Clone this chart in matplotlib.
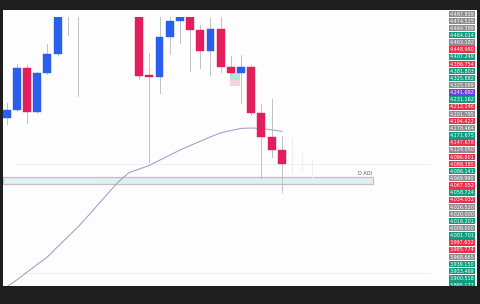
import matplotlib
matplotlib.use("Agg")
import matplotlib.pyplot as plt
from matplotlib.patches import Rectangle

# ---------------- data ----------------
opens  = [4229.0, 4249.5, 4357.1, 4244.3, 4344.3, 4393.0, 4530.0, 4515.0, 4545.0, 4570.0,
          4560.0, 4585.0, 4550.0, 4510.0, 4337.9, 4334.1, 4436.6, 4477.6, 4495.0, 4454.5,
          4400.7, 4457.1, 4359.7, 4344.3, 4359.7, 4241.8, 4180.3, 4146.9]
highs  = [4267.4, 4367.4, 4364.8, 4346.9, 4418.6, 4520.0, 4540.0, 4560.0, 4590.0, 4600.0,
          4605.0, 4595.0, 4565.0, 4525.0, 4395.6, 4495.0, 4495.0, 4500.0, 4505.0, 4467.3,
          4485.3, 4492.0, 4387.9, 4390.4, 4364.8, 4264.8, 4277.7, 4182.8]
lows   = [4213.6, 4246.9, 4216.2, 4241.8, 4341.7, 4390.4, 4441.7, 4285.4, 4520.0, 4530.0,
          4540.0, 4525.0, 4495.0, 4329.0, 4116.2, 4293.0, 4393.0, 4421.2, 4349.4, 4357.1,
          4339.2, 4346.9, 4341.7, 4267.4, 4236.6, 4075.2, 4129.0, 4039.3]
closes = [4249.5, 4357.1, 4244.3, 4344.3, 4393.0, 4505.0, 4510.0, 4545.0, 4570.0, 4560.0,
          4585.0, 4550.0, 4510.0, 4336.6, 4335.3, 4436.6, 4477.6, 4492.0, 4454.5, 4400.7,
          4457.1, 4359.7, 4344.3, 4359.7, 4241.8, 4180.3, 4146.9, 4111.1]

ma_values = [3795.8, 3814.0, 3833.7, 3853.5, 3872.7, 3898.9, 3924.2, 3949.6, 3978.3, 4008.0,
             4037.5, 4066.2, 4088.8, 4098.0, 4107.5, 4120.6, 4133.6, 4146.7, 4158.2, 4169.5,
             4180.5, 4191.0, 4196.7, 4202.3, 4203.3, 4202.1, 4198.7, 4194.9]

ghost_idx  = [28, 29, 30]
ghost_high = [4177.7, 4139.3, 4121.4]
ghost_low  = [4088.0, 4095.7, 4075.2]

aoi_top, aoi_bottom, aoi_end = 4077.7, 4059.8, 35.9
aoi_label = "D AOI"
hlines = [4111.1, 3831.7]

pos_tp = (4344.3, 4326.4)
pos_sl = (4326.4, 4311.0)

price_labels = ["4,487.839", "4,474.525", "4,464.389", "4,464.014", "4,463.182", "4,448.980",
                "4,407.249", "4,386.754", "4,381.803", "4,325.882", "4,325.099", "4,241.692",
                "4,231.162", "4,212.146", "4,201.795", "4,194.422", "4,178.464", "4,171.675",
                "4,147.678", "4,124.050", "4,096.801", "4,088.385", "4,086.141", "4,069.990",
                "4,067.852", "4,058.724", "4,034.032", "4,026.520", "4,020.000", "4,018.201",
                "4,009.000", "4,001.701", "3,997.632", "3,985.774", "3,968.665", "3,939.150",
                "3,933.469", "3,900.518", "3,895.177"]
label_kinds = ["g", "g", "g", "G", "g", "R", "G", "R", "G", "G", "g", "P", "G", "R", "g", "R",
               "g", "G", "R", "g", "R", "R", "G", "g", "R", "G", "R", "g", "g", "G", "g", "G",
               "R", "R", "g", "G", "G", "G", "G"]

# ---------------- style ----------------
W, H = 480, 304
UP, DOWN = "#2a5fec", "#e21e5c"
WICK = "#bcbcc0"
kind_colors = {"g": "#8c8c90", "G": "#0f9d80", "R": "#ea2f49", "P": "#6d3fd8"}

fig = plt.figure(figsize=(W / 100, H / 100), dpi=100, facecolor="#1f1f1f")

def px_axes(x0, y0, x1, y1, **kw):
    return fig.add_axes([x0 / W, 1 - y1 / H, (x1 - x0) / W, (y1 - y0) / H], **kw)

bg = px_axes(3, 10, 477, 286)
bg.set_facecolor("#fdfdfe")
bg.set_xticks([]); bg.set_yticks([])
for s in bg.spines.values():
    s.set_visible(False)

ax = px_axes(3, 17, 446, 286)
ax.set_facecolor("none")
ax.set_xlim(-0.35, 43.1)
ax.set_ylim(3798.4, 4487.8)
ax.set_xticks([]); ax.set_yticks([])
for s in ax.spines.values():
    s.set_visible(False)

# faint horizontal lines
for hv in hlines:
    ax.plot([0.8, 41.5], [hv, hv], color="#ececf0", lw=0.6, zorder=1)

# AOI zone
ax.add_patch(Rectangle((-0.35, aoi_bottom), aoi_end + 0.35, aoi_top - aoi_bottom,
                       facecolor="#dcf1f2", edgecolor="#cbbcc4", lw=0.9, zorder=2))
ax.plot([-0.3, 8.7], [(aoi_top + aoi_bottom) / 2] * 2, color="white", lw=0.5,
        ls=(0, (1, 1)), zorder=2)
ax.text(aoi_end - 0.1, aoi_top + 2.5, aoi_label, ha="right", va="bottom",
        fontsize=3.6, color="#555555", zorder=3)

# moving average
ax.plot(range(len(ma_values)), ma_values, color="#a09dc8", lw=0.75, zorder=3)

# ghost candles
for gi, gh, gl in zip(ghost_idx, ghost_high, ghost_low):
    ax.plot([gi, gi], [gl, gh], color="#eeeeee", lw=0.8, zorder=2)

# position tool
ax.add_patch(Rectangle((21.9, pos_tp[1]), 1.0, pos_tp[0] - pos_tp[1],
                       facecolor="#b3e3da", edgecolor="none", zorder=2))
ax.add_patch(Rectangle((21.9, pos_sl[1]), 1.0, pos_sl[0] - pos_sl[1],
                       facecolor="#f8d3db", edgecolor="none", zorder=2))

# candles
bw = 0.78
for i, (o, h, l, c) in enumerate(zip(opens, highs, lows, closes)):
    col = UP if c >= o else DOWN
    ax.plot([i, i], [l, h], color=WICK, lw=0.65, zorder=4)
    lo, hi = min(o, c), max(o, c)
    hgt = max(hi - lo, 1.2)
    ax.add_patch(Rectangle((i - bw / 2, lo), bw, hgt, facecolor=col,
                           edgecolor=col, lw=0.3, zorder=5))

# price label column
lab = px_axes(448, 10, 476, 286)
lab.set_xlim(0, 1)
lab.set_ylim(286, 10)
lab.axis("off")
for k, (txt, kind) in enumerate(zip(price_labels, label_kinds)):
    yc = 13.8 + 7.15 * k
    lab.add_patch(Rectangle((0.03, yc - 3.15), 0.94, 6.3,
                            facecolor=kind_colors[kind], edgecolor="none"))
    lab.text(0.5, yc, txt, ha="center", va="center", fontsize=3.5,
             color="white", clip_on=True)

fig.savefig("out.png", dpi=100, facecolor=fig.get_facecolor())
